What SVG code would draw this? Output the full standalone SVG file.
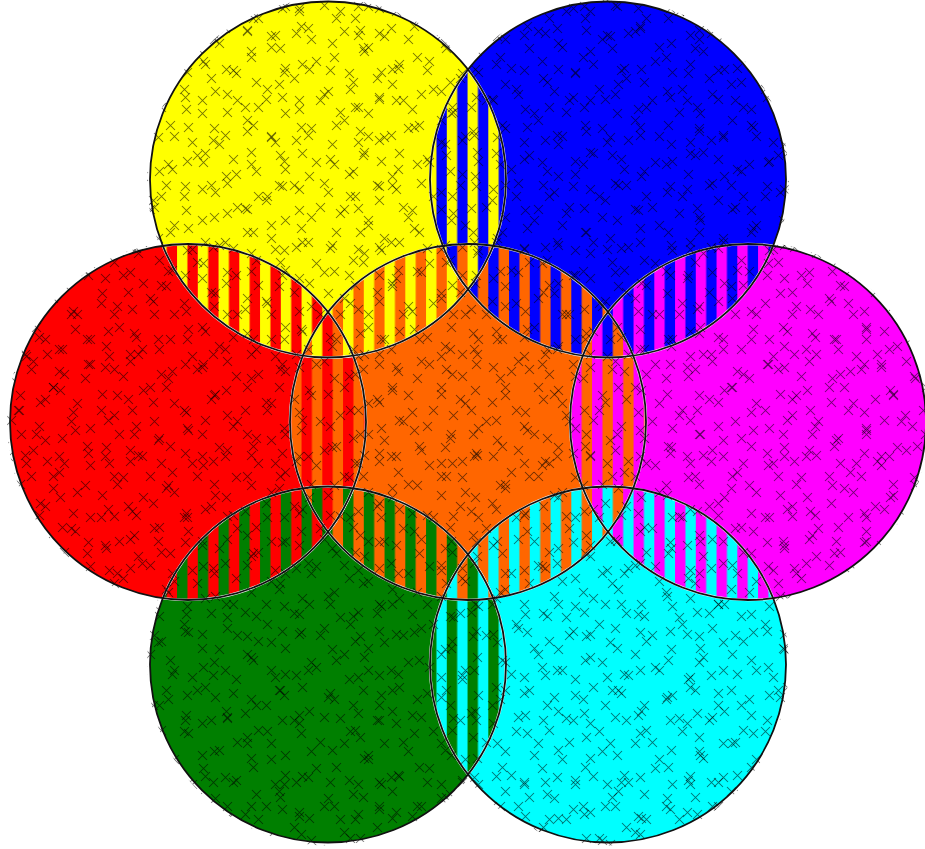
<svg xmlns="http://www.w3.org/2000/svg" width="925" height="849" viewBox="0 0 925 849">
<style>
.y{fill:#ffff00}.b{fill:#0000ff}.r{fill:#ff0000}.o{fill:#ff6600}.m{fill:#ff00ff}.g{fill:#007f00}.c{fill:#00ffff}
.lens{stroke:#f2f2f2;stroke-width:2.6}
.outline{fill:none;stroke:#111;stroke-width:1.8}
.xm{fill:none;stroke:#000;stroke-opacity:0.55;stroke-width:1.05}
</style>
<defs>
<pattern id="sYB" patternUnits="userSpaceOnUse" x="156.3" y="0" width="20.75" height="10"><rect class="b" width="20.75" height="10"/><rect class="y" width="10.375" height="10"/></pattern>
<pattern id="sYR" patternUnits="userSpaceOnUse" x="156.3" y="0" width="20.75" height="10"><rect class="r" width="20.75" height="10"/><rect class="y" width="10.375" height="10"/></pattern>
<pattern id="sYO" patternUnits="userSpaceOnUse" x="156.3" y="0" width="20.75" height="10"><rect class="o" width="20.75" height="10"/><rect class="y" width="10.375" height="10"/></pattern>
<pattern id="sBO" patternUnits="userSpaceOnUse" x="156.3" y="0" width="20.75" height="10"><rect class="o" width="20.75" height="10"/><rect class="b" width="10.375" height="10"/></pattern>
<pattern id="sRO" patternUnits="userSpaceOnUse" x="156.3" y="0" width="20.75" height="10"><rect class="o" width="20.75" height="10"/><rect class="r" width="10.375" height="10"/></pattern>
<pattern id="sGR" patternUnits="userSpaceOnUse" x="156.3" y="0" width="20.75" height="10"><rect class="r" width="20.75" height="10"/><rect class="g" width="10.375" height="10"/></pattern>
<pattern id="sMB" patternUnits="userSpaceOnUse" x="156.3" y="0" width="20.75" height="10"><rect class="b" width="20.75" height="10"/><rect class="m" width="10.375" height="10"/></pattern>
<pattern id="sMO" patternUnits="userSpaceOnUse" x="156.3" y="0" width="20.75" height="10"><rect class="o" width="20.75" height="10"/><rect class="m" width="10.375" height="10"/></pattern>
<pattern id="sGO" patternUnits="userSpaceOnUse" x="156.3" y="0" width="20.75" height="10"><rect class="o" width="20.75" height="10"/><rect class="g" width="10.375" height="10"/></pattern>
<pattern id="sCO" patternUnits="userSpaceOnUse" x="156.3" y="0" width="20.75" height="10"><rect class="o" width="20.75" height="10"/><rect class="c" width="10.375" height="10"/></pattern>
<pattern id="sMC" patternUnits="userSpaceOnUse" x="156.3" y="0" width="20.75" height="10"><rect class="c" width="20.75" height="10"/><rect class="m" width="10.375" height="10"/></pattern>
<pattern id="sGC" patternUnits="userSpaceOnUse" x="156.3" y="0" width="20.75" height="10"><rect class="c" width="20.75" height="10"/><rect class="g" width="10.375" height="10"/></pattern>
<pattern id="tYBO" patternUnits="userSpaceOnUse" x="156.3" y="0" width="31.125" height="10"><rect class="o" width="31.125" height="10"/><rect class="b" width="20.75" height="10"/><rect class="y" width="10.375" height="10"/></pattern>
<pattern id="tYRO" patternUnits="userSpaceOnUse" x="156.3" y="0" width="31.125" height="10"><rect class="o" width="31.125" height="10"/><rect class="r" width="20.75" height="10"/><rect class="y" width="10.375" height="10"/></pattern>
<pattern id="tGRO" patternUnits="userSpaceOnUse" x="156.3" y="0" width="31.125" height="10"><rect class="o" width="31.125" height="10"/><rect class="r" width="20.75" height="10"/><rect class="g" width="10.375" height="10"/></pattern>
<pattern id="tGCO" patternUnits="userSpaceOnUse" x="156.3" y="0" width="31.125" height="10"><rect class="o" width="31.125" height="10"/><rect class="c" width="20.75" height="10"/><rect class="g" width="10.375" height="10"/></pattern>
<pattern id="tMCO" patternUnits="userSpaceOnUse" x="156.3" y="0" width="31.125" height="10"><rect class="o" width="31.125" height="10"/><rect class="c" width="20.75" height="10"/><rect class="m" width="10.375" height="10"/></pattern>
<pattern id="tMBO" patternUnits="userSpaceOnUse" x="156.3" y="0" width="31.125" height="10"><rect class="o" width="31.125" height="10"/><rect class="b" width="20.75" height="10"/><rect class="m" width="10.375" height="10"/></pattern>
<pattern id="x1" patternUnits="userSpaceOnUse" x="0" y="0" width="97" height="89"><path class="xm" d="M4 7l9 9m0-9l-9 9M29 1l9 9m0-9l-9 9M60 14l9 9m0-9l-9 9M84 4l9 9m0-9l-9 9M16 35l9 9m0-9l-9 9M49 27l9 9m0-9l-9 9M73 43l9 9m0-9l-9 9M7 60l9 9m0-9l-9 9M35 66l9 9m0-9l-9 9M58 78l9 9m0-9l-9 9M86 68l9 9m0-9l-9 9"/></pattern>
<pattern id="x2" patternUnits="userSpaceOnUse" x="31" y="17" width="113" height="101"><path class="xm" d="M10 15l9 9m0-9l-9 9M40 5l9 9m0-9l-9 9M71 22l9 9m0-9l-9 9M99 9l9 9m0-9l-9 9M24 47l9 9m0-9l-9 9M55 40l9 9m0-9l-9 9M88 52l9 9m0-9l-9 9M5 78l9 9m0-9l-9 9M38 88l9 9m0-9l-9 9M67 70l9 9m0-9l-9 9M97 86l9 9m0-9l-9 9M103 30l9 9m0-9l-9 9M18 63l9 9m0-9l-9 9M79 91l9 9m0-9l-9 9"/></pattern>
<pattern id="x3" patternUnits="userSpaceOnUse" x="53" y="41" width="83" height="107"><path class="xm" d="M3 24l9 9m0-9l-9 9M28 12l9 9m0-9l-9 9M57 3l9 9m0-9l-9 9M71 33l9 9m0-9l-9 9M14 55l9 9m0-9l-9 9M44 44l9 9m0-9l-9 9M62 68l9 9m0-9l-9 9M2 90l9 9m0-9l-9 9M30 80l9 9m0-9l-9 9M52 97l9 9m0-9l-9 9M73 95l9 9m0-9l-9 9"/></pattern>
<clipPath id="allc">
<circle cx="468" cy="422" r="181"/><circle cx="328" cy="179.51" r="181"/><circle cx="608" cy="179.51" r="181"/><circle cx="188" cy="422" r="181"/><circle cx="748" cy="422" r="181"/><circle cx="328" cy="664.49" r="181"/><circle cx="608" cy="664.49" r="181"/>
</clipPath>
</defs>
<rect width="925" height="849" fill="#ffffff"/>
<g id="yellow"><circle class="y" cx="328" cy="179.51" r="178"/></g>
<g id="blue"><circle class="b" cx="608" cy="179.51" r="178"/></g>
<g id="red"><circle class="r" cx="188" cy="422" r="178"/></g>
<g id="orange"><circle class="o" cx="468" cy="422" r="178"/></g>
<g id="magenta"><circle class="m" cx="748" cy="422" r="178"/></g>
<g id="green"><circle class="g" cx="328" cy="664.49" r="178"/></g>
<g id="cyan"><circle class="c" cx="608" cy="664.49" r="178"/></g>
<g id="overlaps" class="lens">
<path fill="url(#sMO)" d="M608,312.07A178,178 0 0 1 608,531.93A178,178 0 0 1 608,312.07Z"/>
<path fill="url(#sCO)" d="M633.2,488.28A178,178 0 0 1 442.8,598.2A178,178 0 0 1 633.2,488.28Z"/>
<path fill="url(#sGO)" d="M493.2,598.2A178,178 0 0 1 302.8,488.28A178,178 0 0 1 493.2,598.2Z"/>
<path fill="url(#sRO)" d="M328,531.93A178,178 0 0 1 328,312.07A178,178 0 0 1 328,531.93Z"/>
<path fill="url(#sYO)" d="M302.8,355.72A178,178 0 0 1 493.2,245.8A178,178 0 0 1 302.8,355.72Z"/>
<path fill="url(#sBO)" d="M442.8,245.8A178,178 0 0 1 633.2,355.72A178,178 0 0 1 442.8,245.8Z"/>
<path fill="url(#sGC)" d="M468,554.56A178,178 0 0 1 468,774.41A178,178 0 0 1 468,554.56Z"/>
<path fill="url(#sMC)" d="M582.8,488.28A178,178 0 0 1 773.2,598.21A178,178 0 0 1 582.8,488.28Z"/>
<path fill="url(#sMB)" d="M582.8,355.72A178,178 0 0 1 773.2,245.79A178,178 0 0 1 582.8,355.72Z"/>
<path fill="url(#sYB)" d="M468,289.44A178,178 0 0 1 468,69.59A178,178 0 0 1 468,289.44Z"/>
<path fill="url(#sYR)" d="M353.2,355.72A178,178 0 0 1 162.8,245.79A178,178 0 0 1 353.2,355.72Z"/>
<path fill="url(#sGR)" d="M353.2,488.28A178,178 0 0 1 162.8,598.21A178,178 0 0 1 353.2,488.28Z"/>
<path fill="url(#tMCO)" d="M633.2,488.28A178,178 0 0 1 608,531.93A178,178 0 0 1 582.8,488.28A178,178 0 0 1 633.2,488.28Z"/>
<path fill="url(#tMBO)" d="M608,312.07A178,178 0 0 1 633.2,355.72A178,178 0 0 1 582.8,355.72A178,178 0 0 1 608,312.07Z"/>
<path fill="url(#tYBO)" d="M442.8,245.8A178,178 0 0 1 493.2,245.8A178,178 0 0 1 468,289.44A178,178 0 0 1 442.8,245.8Z"/>
<path fill="url(#tYRO)" d="M302.8,355.72A178,178 0 0 1 328,312.07A178,178 0 0 1 353.2,355.72A178,178 0 0 1 302.8,355.72Z"/>
<path fill="url(#tGRO)" d="M328,531.93A178,178 0 0 1 302.8,488.28A178,178 0 0 1 353.2,488.28A178,178 0 0 1 328,531.93Z"/>
<path fill="url(#tGCO)" d="M493.2,598.21A178,178 0 0 1 442.8,598.2A178,178 0 0 1 468,554.56A178,178 0 0 1 493.2,598.21Z"/>
</g>
<g id="marks" clip-path="url(#allc)">
<rect width="925" height="849" fill="url(#x1)"/>
<rect width="925" height="849" fill="url(#x2)"/>
<rect width="925" height="849" fill="url(#x3)"/>
</g>
<g id="connectors" class="outline">
<circle cx="328" cy="179.51" r="178"/>
<circle cx="608" cy="179.51" r="178"/>
<circle cx="188" cy="422" r="178"/>
<circle cx="468" cy="422" r="178"/>
<circle cx="748" cy="422" r="178"/>
<circle cx="328" cy="664.49" r="178"/>
<circle cx="608" cy="664.49" r="178"/>
</g>
</svg>
